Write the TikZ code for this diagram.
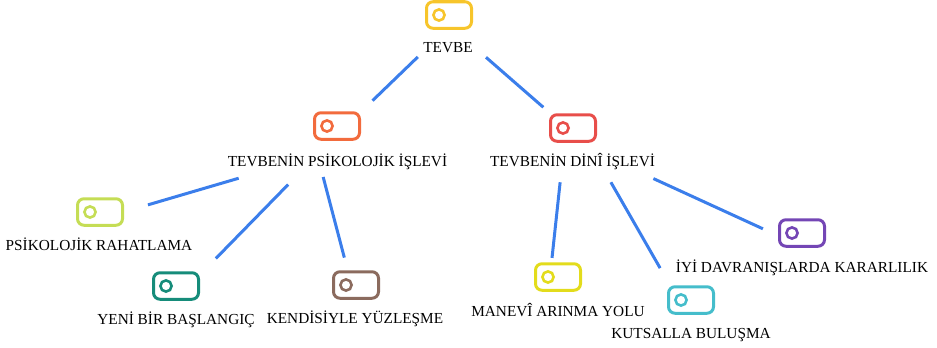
\documentclass[tikz,border=0pt]{standalone}
\usepackage{fontspec}
\setmainfont{Liberation Serif}
\usetikzlibrary{fit}

\definecolor{tevbeyellow}{HTML}{F7C52B}
\definecolor{psiorange}{HTML}{F26B3D}
\definecolor{dinired}{HTML}{E84E4A}
\definecolor{rahatlime}{HTML}{C5DD55}
\definecolor{yeniteal}{HTML}{168C7A}
\definecolor{kendbrown}{HTML}{8B6B5E}
\definecolor{maneviyellow}{HTML}{E3DC1C}
\definecolor{kutscyan}{HTML}{45BDCB}
\definecolor{iyipurple}{HTML}{7446B5}
\definecolor{linkblue}{HTML}{3B7EEB}

\tikzset{
    icon/.style={draw=#1, line width=3, rounded corners=6.5, minimum width=45,
        minimum height=26.5, inner sep=0,
        path picture={\draw[#1, line width=2.6] ([xshift=-10]path picture bounding box.center) circle (5.6pt);}},
    lbl/.style={inner sep=0, text height=11, text depth=3, anchor=base,
        font=\fontsize{15.3}{18}\selectfont},
    grp/.style={inner sep=0},
    link/.style={draw=linkblue, line width=3},
}

\begin{document}
\begin{tikzpicture}[x=1pt,y=-1pt]
    \useasboundingbox (0,0) rectangle (937,348);

    \node[icon=tevbeyellow] (tevbe-i) at (449,15) {};
    \node[lbl] (tevbe-t) at (448,52) {TEVBE};
    \node[grp, fit=(tevbe-i)(tevbe-t)] (tevbe) {};

    %%%%%%%%%%%%%%%%%%%%%%%%%%%%%%%%%%%%%%%%%%%%%%%%%%%%%%

    \node[icon=psiorange] (psi-i) at (337,126) {};
    \node[lbl] (psi-t) at (337.5,166) {TEVBENİN PSİKOLOJİK İŞLEVİ};
    \node[grp, fit=(psi-i)(psi-t)] (psi) {};

    \node[icon=dinired] (dini-i) at (573,128) {};
    \node[lbl] (dini-t) at (572.5,166.5) {TEVBENİN DİNÎ İŞLEVİ};
    \node[grp, fit=(dini-i)(dini-t)] (dini) {};

    %%%%%%%%%%%%%%%%%%%%%%%%%%%%%%%%%%%%%%%%%%%%%%%%%%%%%%

    \node[icon=rahatlime] (rahat-i) at (100,212) {};
    \node[lbl] (rahat-t) at (99,250) {PSİKOLOJİK RAHATLAMA};
    \node[grp, fit=(rahat-i)(rahat-t)] (rahat) {};

    \node[icon=yeniteal] (yeni-i) at (176,286) {};
    \node[lbl] (yeni-t) at (176,324) {YENİ BİR BAŞLANGIÇ};
    \node[grp, fit=(yeni-i)(yeni-t)] (yeni) {};

    \node[icon=kendbrown] (kend-i) at (356,285) {};
    \node[lbl] (kend-t) at (355,323) {KENDİSİYLE YÜZLEŞME};
    \node[grp, fit=(kend-i)(kend-t)] (kend) {};

    \node[icon=maneviyellow] (manevi-i) at (558,277) {};
    \node[lbl] (manevi-t) at (558,316) {MANEVÎ ARINMA YOLU};
    \node[grp, fit=(manevi-i)(manevi-t)] (manevi) {};

    \node[icon=kutscyan] (kuts-i) at (691,300) {};
    \node[lbl] (kuts-t) at (691,338) {KUTSALLA BULUŞMA};
    \node[grp, fit=(kuts-i)(kuts-t)] (kuts) {};

    \node[icon=iyipurple] (iyi-i) at (802,233) {};
    \node[lbl] (iyi-t) at (802,272) {İYİ DAVRANIŞLARDA KARARLILIK};
    \node[grp, fit=(iyi-i)(iyi-t)] (iyi) {};

    %%%%%%%%%%%%%%%%%%%%%%%%%%%%%%%%%%%%%%%%%%%%%%%%%%%%%%

    \draw[link, shorten <=42, shorten >=57] (tevbe.center) -- ([xshift=-6]psi.center);
    \draw[link, shorten <=45, shorten >=52] ([xshift=4]tevbe.center) -- ([xshift=10]dini.center);

    \draw[link, shorten <=103, shorten >=51] ([yshift=-9]psi.center) -- ([yshift=6]rahat.center);
    \draw[link, shorten <=62, shorten >=57] ([xshift=-6]psi.center) -- (yeni.center);
    \draw[link, shorten <=38, shorten >=42] ([xshift=-24]psi.center) -- (kend.center);

    \draw[link, shorten <=41, shorten >=33] ([xshift=-8]dini.center) -- ([xshift=-9.5]manevi.center);
    \draw[link, shorten <=47, shorten >=52] ([xshift=15]dini.center) -- ([xshift=-5]kuts.center);
    \draw[link, shorten <=89, shorten >=43] (dini.center) -- (iyi.center);
\end{tikzpicture}
\end{document}
